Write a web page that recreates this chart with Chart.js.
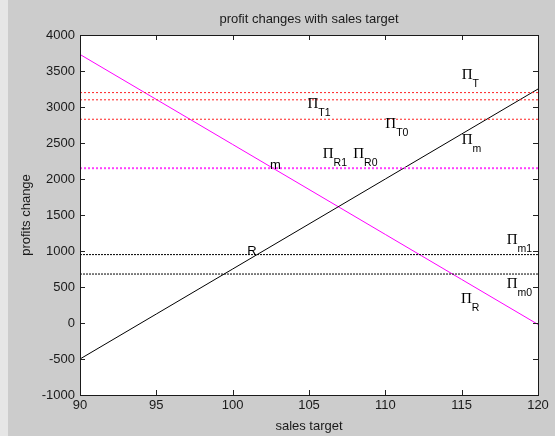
<!DOCTYPE html>
<html>
<head>
<meta charset="utf-8">
<script src="https://cdn.jsdelivr.net/npm/chart.js@4.4.0/dist/chart.umd.min.js"></script>
<style>
  html, body { margin: 0; padding: 0; background: #cccccc; overflow: hidden; }
  #wrap { width: 555px; height: 436px; position: relative; }
  canvas { display: block; }
</style>
</head>
<body>
<div id="wrap"><canvas id="c" width="555" height="436"></canvas></div>
<script>
// Sales target (x) and the two profit curves
const salesTarget = [90, 95, 100, 105, 110, 115, 120];
const profitRising = [-500, 125, 750, 1375, 2000, 2625, 3250];
const profitFalling = [3730, 3105, 2480, 1855, 1230, 605, -20];

// Constant profit levels (dotted reference lines)
const redLevels = [3200, 3100, 2830];
const magentaLevels = [2150];
const blackLevels = [950, 680];

// Axis ticks
const xTicks = [90, 95, 100, 105, 110, 115, 120];
const yTicks = [-1000, -500, 0, 500, 1000, 1500, 2000, 2500, 3000, 3500, 4000];

// Pi labels with subscripts, anchored at baseline-left in data units
const piSubs = ['T', 'T1', 'T0', 'm', 'R1', 'R0', 'm1', 'm0', 'R'];
const piX = [115, 104.9, 110, 115, 105.9, 107.9, 117.95, 117.95, 114.95];
const piY = [3390, 2980, 2710, 2485, 2290, 2290, 1095, 485, 275];

// Plain text labels
const plainText = ['m', 'R'];
const plainX = [102.45, 100.95];
const plainY = [2135, 950];

const SANS = '"Liberation Sans", Arial, sans-serif';
const SERIF = '"Liberation Serif", "Times New Roman", serif';

function levelSet(levels, color, width, dash) {
  return levels.map(v => ({
    data: [{ x: xTicks[0], y: v }, { x: xTicks[xTicks.length - 1], y: v }],
    borderColor: color, borderWidth: width, borderDash: dash,
    pointRadius: 0, fill: false
  }));
}

const framePlugin = {
  id: 'frame',
  beforeDraw(chart) {
    const { ctx, chartArea: a } = chart;
    ctx.save();
    ctx.fillStyle = '#cccccc';
    ctx.fillRect(0, 0, chart.width, chart.height);
    ctx.fillStyle = '#e6e6e6';
    ctx.fillRect(0, 0, 8, chart.height);
    ctx.fillStyle = '#ffffff';
    ctx.fillRect(a.left, a.top, a.right - a.left, a.bottom - a.top);
    ctx.restore();
  },
  afterDatasetsDraw(chart) {
    const { ctx, chartArea: a, scales } = chart;
    const xs = scales.x, ys = scales.y;
    ctx.save();
    // inward tick marks on all four sides
    ctx.strokeStyle = '#222';
    ctx.lineWidth = 1;
    ctx.beginPath();
    xTicks.forEach(v => {
      const px = Math.round(xs.getPixelForValue(v)) + 0.5;
      ctx.moveTo(px, a.bottom); ctx.lineTo(px, a.bottom - 5);
      ctx.moveTo(px, a.top); ctx.lineTo(px, a.top + 5);
    });
    yTicks.forEach(v => {
      const py = Math.round(ys.getPixelForValue(v)) + 0.5;
      ctx.moveTo(a.left, py); ctx.lineTo(a.left + 5, py);
      ctx.moveTo(a.right, py); ctx.lineTo(a.right - 5, py);
    });
    ctx.stroke();
    // axes box
    ctx.strokeStyle = '#1a1a1a';
    ctx.strokeRect(Math.round(a.left) + 0.5, Math.round(a.top) + 0.5,
                   Math.round(a.right - a.left), Math.round(a.bottom - a.top));

    // Pi labels
    ctx.fillStyle = '#000';
    ctx.textBaseline = 'alphabetic';
    ctx.textAlign = 'left';
    piSubs.forEach((s, i) => {
      const px = xs.getPixelForValue(piX[i]);
      const py = ys.getPixelForValue(piY[i]);
      ctx.font = '15px ' + SERIF;
      ctx.fillText('\u03A0', px, py);
      const w = ctx.measureText('\u03A0').width;
      ctx.font = '10.5px ' + SANS;
      ctx.fillText(s, px + w, py + 8);
    });
    ctx.font = '13px ' + SANS;
    plainText.forEach((t, i) => {
      ctx.fillText(t, xs.getPixelForValue(plainX[i]), ys.getPixelForValue(plainY[i]));
    });
    ctx.restore();
  }
};

new Chart(document.getElementById('c'), {
  type: 'line',
  data: {
    datasets: [
      ...levelSet(redLevels, '#ff2020', 1, [2, 2]),
      ...levelSet(magentaLevels, '#ff40ff', 2, [2, 2]),
      ...levelSet(blackLevels, '#000000', 1, [2, 1]),
      {
        data: salesTarget.map((x, i) => ({ x, y: profitRising[i] })),
        borderColor: '#000000', borderWidth: 1, pointRadius: 0, fill: false
      },
      {
        data: salesTarget.map((x, i) => ({ x, y: profitFalling[i] })),
        borderColor: '#ff00ff', borderWidth: 1, pointRadius: 0, fill: false
      }
    ]
  },
  options: {
    responsive: false,
    animation: false,
    devicePixelRatio: 1,
    layout: { padding: { left: 0, right: 17, top: 0, bottom: 0 } },
    plugins: {
      legend: { display: false },
      tooltip: { enabled: false },
      title: {
        display: true,
        fullSize: false,
        text: 'profit changes with sales target',
        color: '#1a1a1a',
        font: { family: SANS, size: 13, weight: 'normal' },
        padding: { top: 12, bottom: 7.4 }
      }
    },
    scales: {
      x: {
        type: 'linear', min: 90, max: 120,
        afterBuildTicks(s) { s.ticks = xTicks.map(v => ({ value: v })); },
        afterFit(s) { s.height = 41; },
        grid: { display: false, drawTicks: false },
        border: { display: false },
        ticks: { color: '#1a1a1a', font: { family: SANS, size: 13 }, padding: 3,
                 maxRotation: 0, autoSkip: false, callback: v => String(v) },
        title: { display: true, text: 'sales target', color: '#1a1a1a',
                 font: { family: SANS, size: 13 }, padding: { top: 0, bottom: 2 } }
      },
      y: {
        type: 'linear', min: -1000, max: 4000,
        afterBuildTicks(s) { s.ticks = yTicks.map(v => ({ value: v })); },
        afterFit(s) { s.width = 80; },
        grid: { display: false, drawTicks: false },
        border: { display: false },
        ticks: { color: '#1a1a1a', font: { family: SANS, size: 13 }, padding: 5,
                 autoSkip: false, callback: v => String(v) },
        title: { display: true, text: 'profits change', color: '#1a1a1a',
                 font: { family: SANS, size: 13 }, padding: { top: 19, bottom: 0 } }
      }
    }
  },
  plugins: [framePlugin]
});
</script>
</body>
</html>
